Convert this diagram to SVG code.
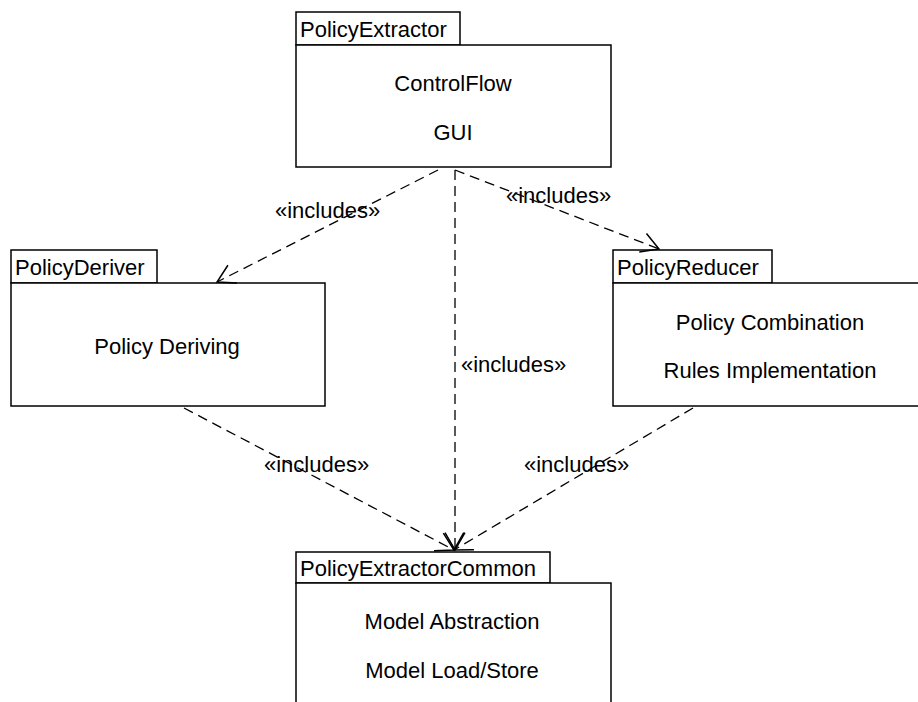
<svg xmlns="http://www.w3.org/2000/svg" width="918" height="702" viewBox="0 0 918 702">
<style>
.box{fill:#fff;stroke:#000;stroke-width:1.5}
.t{font-family:"Liberation Sans",Arial,sans-serif;font-size:22px;fill:#000}
.c{text-anchor:middle}
.dep{fill:none;stroke:#000;stroke-width:1.3;stroke-dasharray:10,6}
</style>
<defs>
<marker id="open" markerUnits="userSpaceOnUse" viewBox="-20 -12 22 24" refX="0" refY="0" markerWidth="22" markerHeight="24" orient="auto" overflow="visible">
<path d="M-17.3,-10 L0,0 L-17.3,10" fill="none" stroke="#000" stroke-width="1.5" stroke-dasharray="none"/>
</marker>
</defs>
<rect width="918" height="702" fill="#fff"/>
<g id="PolicyExtractor">
<rect class="box" x="296" y="12" width="164" height="33"/>
<rect class="box" x="296" y="45" width="315" height="122"/>
<text class="t" x="300" y="37">PolicyExtractor</text>
<text class="t c" x="453" y="91">ControlFlow</text>
<text class="t c" x="453" y="140">GUI</text>
</g>
<g id="PolicyDeriver">
<rect class="box" x="11" y="250" width="146" height="33"/>
<rect class="box" x="11" y="283" width="314" height="123"/>
<text class="t" x="15" y="275">PolicyDeriver</text>
<text class="t c" x="167" y="354">Policy Deriving</text>
</g>
<g id="PolicyReducer">
<rect class="box" x="613" y="250" width="159" height="33"/>
<rect class="box" x="613" y="283" width="315" height="123"/>
<text class="t" x="617" y="275">PolicyReducer</text>
<text class="t c" x="770" y="330">Policy Combination</text>
<text class="t c" x="770" y="378">Rules Implementation</text>
</g>
<g id="PolicyExtractorCommon">
<rect class="box" x="296" y="552" width="254" height="31"/>
<rect class="box" x="296" y="583" width="315" height="130"/>
<text class="t" x="300" y="576">PolicyExtractorCommon</text>
<text class="t c" x="452" y="629">Model Abstraction</text>
<text class="t c" x="452" y="678">Model Load/Store</text>
</g>
<g id="connectors">
<path class="dep" d="M438,170 L217,282" marker-end="url(#open)"/>
<path class="dep" d="M455,170 L455,550" marker-end="url(#open)"/>
<path class="dep" d="M455,170 L659,249" marker-end="url(#open)"/>
<path class="dep" d="M184,408 L454,550" marker-end="url(#open)"/>
<path class="dep" d="M693,408 L454,550" marker-end="url(#open)"/>
<text class="t" x="275" y="218">«includes»</text>
<text class="t" x="461" y="372">«includes»</text>
<text class="t" x="506" y="203">«includes»</text>
<text class="t" x="264" y="472">«includes»</text>
<text class="t" x="524" y="472">«includes»</text>
</g>
</svg>
